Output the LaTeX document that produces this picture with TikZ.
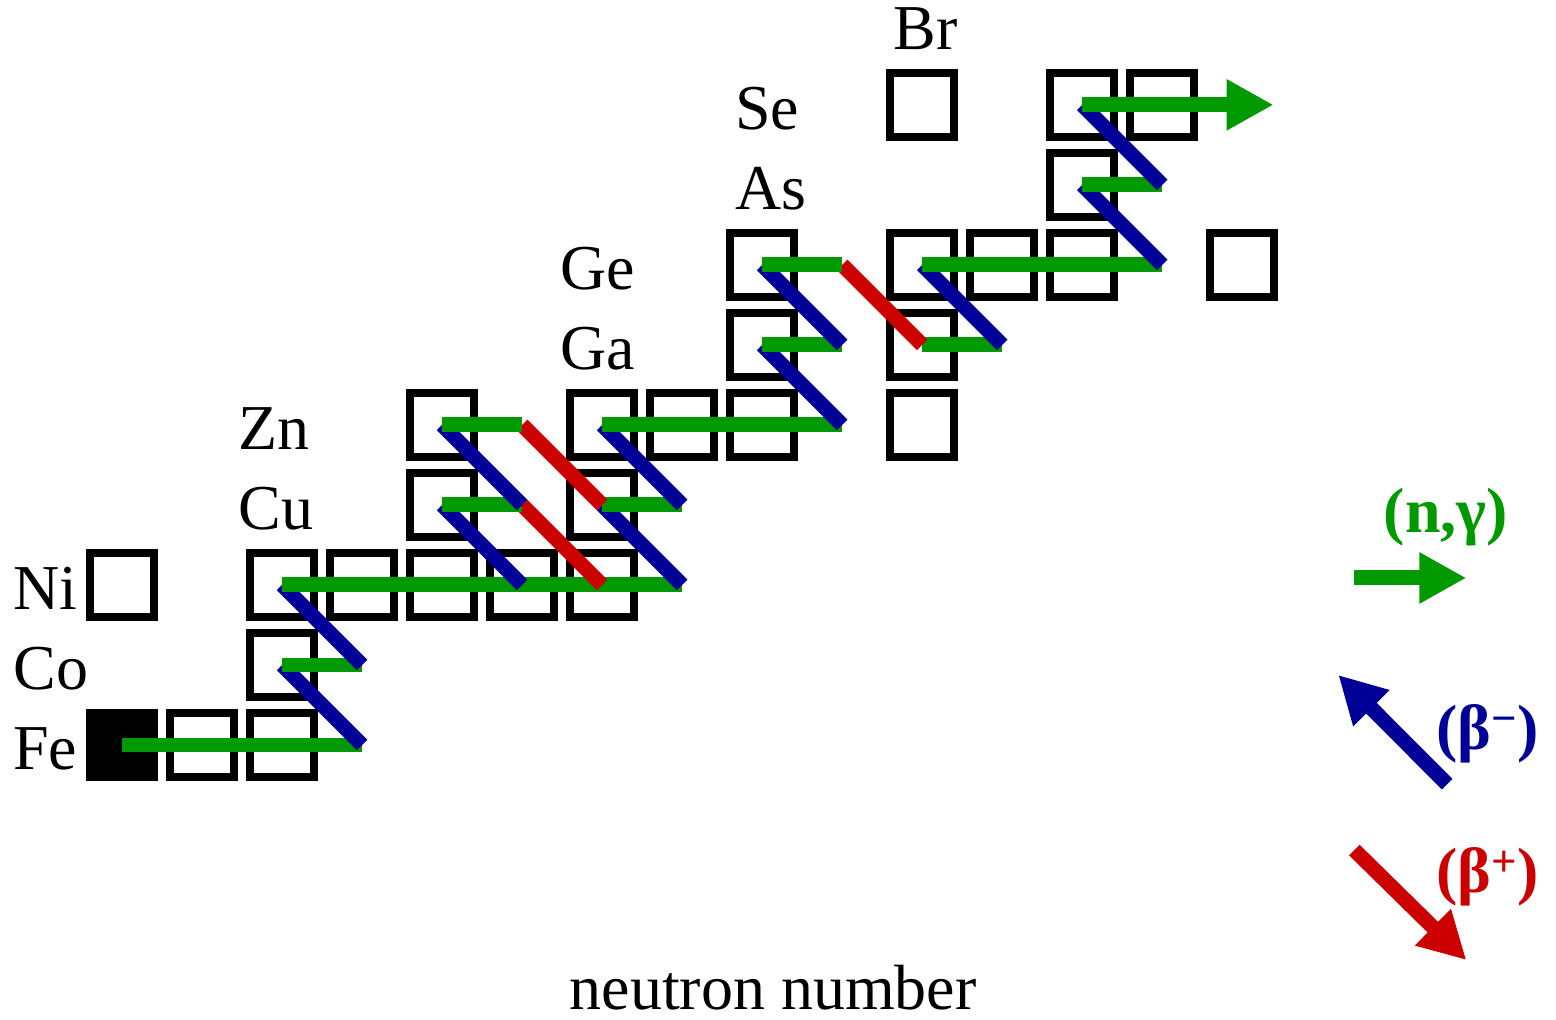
\documentclass[tikz,border=0pt]{standalone}
\usepackage{fontspec}
\setmainfont{Liberation Serif}
\usetikzlibrary{arrows.meta}
\definecolor{ngreen}{RGB}{0,153,0}
\definecolor{bblue}{RGB}{0,0,153}
\definecolor{bred}{RGB}{204,0,0}
\begin{document}
\begin{tikzpicture}[scale=1.6,
  nuc/.style={draw, line width=4.5pt, minimum size=1.28cm, inner sep=0pt},
  ng/.style={ngreen, line width=8.5pt},
  bm/.style={bblue, line width=8.5pt},
  bp/.style={bred, line width=8.5pt},
  bigarrow/.style={-{Triangle[length=26.7pt,width=27.3pt]}},
  elem/.style={anchor=base west, inner sep=0pt, font=\fontsize{36.4}{44}\selectfont},
  lbl/.style={anchor=base, inner sep=0pt, font=\fontsize{36.4}{44}\selectfont\bfseries}]
\useasboundingbox (-1.525,-3.425) rectangle (17.925,9.3125);
% grid points (neutron number, element row)
\foreach \x in {0,...,14} {
  \foreach \y in {0,...,8} {
    \coordinate (p\x-\y) at (\x,\y);
  }
}
% stable nuclei
\node[nuc, fill=black] (b0-0) at (p0-0) {};
\foreach \x/\y in {1/0,2/0,2/1,0/2,2/2,3/2,4/2,5/2,6/2,4/3,6/3,4/4,6/4,7/4,8/4,10/4,
                   8/5,10/5,8/6,10/6,11/6,12/6,14/6,12/7,10/8,12/8,13/8}
  \node[nuc] (b\x-\y) at (p\x-\y) {};
% element names
\node[elem] (fe) at (-1.3625,-0.31) {Fe};
\node[elem] (co) at (-1.3625,0.69) {Co};
\node[elem] (ni) at (-1.3625,1.69) {Ni};
\node[elem] (cu) at (1.45,2.69) {Cu};
\node[elem] (zn) at (1.45,3.69) {Zn};
\node[elem] (ga) at (5.475,4.69) {Ga};
\node[elem] (ge) at (5.475,5.69) {Ge};
\node[elem] (as) at (7.6625,6.69) {As};
\node[elem] (se) at (7.6625,7.69) {Se};
\node[elem] (br) at (9.6375,8.69) {Br};
% reaction path
\draw[ng] (p0-0) -- (p3-0);
\draw[bm] (p3-0) -- (p2-1);
\draw[ng] (p2-1) -- (p3-1);
\draw[bm] (p3-1) -- (p2-2);
\draw[ng] (p2-2) -- (p7-2);
\draw[bm] (p5-2) -- (p4-3);
\draw[bp] (p5-3) -- (p6-2);
\draw[bm] (p7-2) -- (p6-3);
\draw[ng] (p4-3) -- (p5-3);
\draw[ng] (p6-3) -- (p7-3);
\draw[bm] (p5-3) -- (p4-4);
\draw[bp] (p5-4) -- (p6-3);
\draw[bm] (p7-3) -- (p6-4);
\draw[ng] (p4-4) -- (p5-4);
\draw[ng] (p6-4) -- (p9-4);
\draw[bm] (p9-4) -- (p8-5);
\draw[ng] (p8-5) -- (p9-5);
\draw[ng] (p10-5) -- (p11-5);
\draw[bm] (p9-5) -- (p8-6);
\draw[bp] (p9-6) -- (p10-5);
\draw[bm] (p11-5) -- (p10-6);
\draw[ng] (p8-6) -- (p9-6);
\draw[ng] (p10-6) -- (p13-6);
\draw[bm] (p13-6) -- (p12-7);
\draw[ng] (p12-7) -- (p13-7);
\draw[bm] (p13-7) -- (p12-8);
\coordinate (out) at (14.39,8);
\draw[ng, bigarrow] (p12-8) -- (out);
% legend
\coordinate (ng1) at (15.39,2.0875);
\coordinate (ng2) at (16.8,2.0875);
\coordinate (bm1) at (16.56,-0.49);
\coordinate (bm2) at (15.2,0.875);
\coordinate (bp1) at (15.4,-1.3125);
\coordinate (bp2) at (16.8,-2.6875);
\draw[ng, bigarrow] (ng1) -- (ng2);
\draw[bm, bigarrow] (bm1) -- (bm2);
\draw[bp, bigarrow] (bp1) -- (bp2);
\node[lbl, ngreen] (lng) at (16.55,2.66) {(n,γ)};
\node[lbl, bblue] (lbm) at (17.07,-0.06) {(β\textsuperscript{−})};
\node[lbl, bred] (lbp) at (17.07,-1.84) {(β\textsuperscript{+})};
\node[elem, anchor=base] (axis) at (8.14,-3.3) {neutron number};
\end{tikzpicture}
\end{document}
